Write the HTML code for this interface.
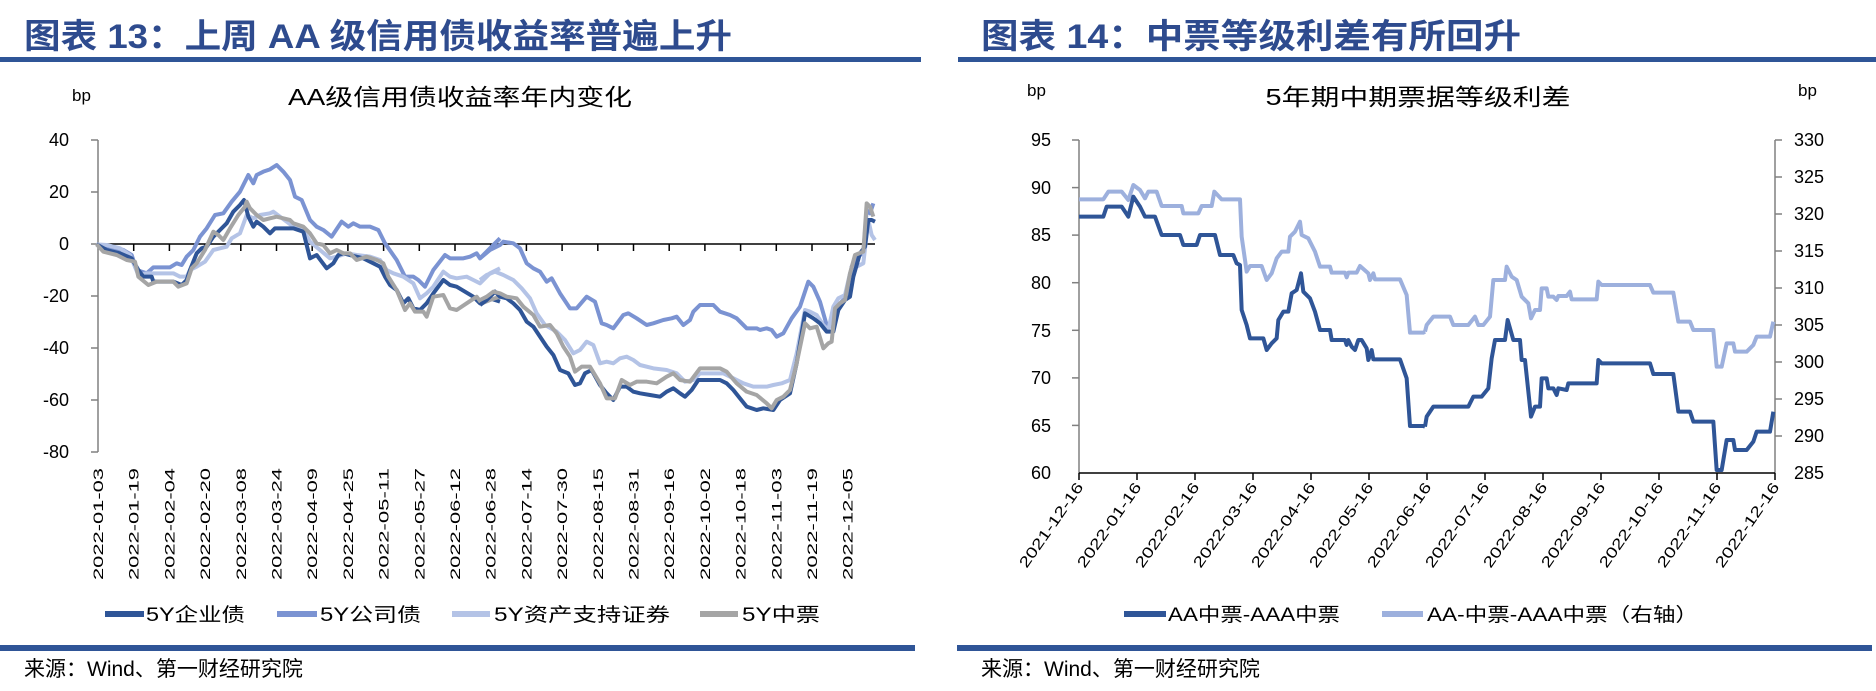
<!DOCTYPE html>
<html><head><meta charset="utf-8"><style>
html,body{margin:0;padding:0;background:#fff;}
svg{display:block;}
text{font-family:"Liberation Sans","Noto Sans CJK SC",sans-serif;}
</style></head><body>
<svg width="1876" height="691" viewBox="0 0 1876 691" xmlns="http://www.w3.org/2000/svg">
<text x="24" y="48" font-size="34" font-weight="bold" fill="#2E4B8E" textLength="708" lengthAdjust="spacingAndGlyphs">图表 13：上周 AA 级信用债收益率普遍上升</text>
<text x="981" y="48" font-size="34" font-weight="bold" fill="#2E4B8E" textLength="540" lengthAdjust="spacingAndGlyphs">图表 14：中票等级利差有所回升</text>
<rect x="0" y="57" width="921" height="5" fill="#2F5597"/>
<rect x="958" y="57" width="918" height="5" fill="#2F5597"/>
<rect x="0" y="645" width="915" height="6" fill="#2F5597"/>
<rect x="957" y="645" width="915" height="6" fill="#2F5597"/>
<text x="24" y="676" font-size="21" fill="#000">来源：Wind、第一财经研究院</text>
<text x="981" y="676" font-size="21" fill="#000">来源：Wind、第一财经研究院</text>

<text x="72" y="101" font-size="17">bp</text>
<text x="460" y="105" font-size="23" text-anchor="middle" textLength="344" lengthAdjust="spacingAndGlyphs">AA级信用债收益率年内变化</text>
<g font-size="18" text-anchor="end" fill="#000">
<text x="69" y="146">40</text><text x="69" y="198">20</text><text x="69" y="250">0</text>
<text x="69" y="302">-20</text><text x="69" y="354">-40</text><text x="69" y="406">-60</text><text x="69" y="458">-80</text>
</g>
<g stroke="#808080" stroke-width="1.5">
<line x1="98" y1="140" x2="98" y2="452"/>
<line x1="91" y1="140" x2="98" y2="140"/><line x1="91" y1="192" x2="98" y2="192"/><line x1="91" y1="244" x2="98" y2="244"/>
<line x1="91" y1="296" x2="98" y2="296"/><line x1="91" y1="348" x2="98" y2="348"/><line x1="91" y1="400" x2="98" y2="400"/><line x1="91" y1="452" x2="98" y2="452"/>
</g>
<line x1="98" y1="244" x2="875" y2="244" stroke="#000" stroke-width="1.5"/>
<g stroke="#000" stroke-width="1.5">
<line x1="133.7" y1="244" x2="133.7" y2="251"/><line x1="169.4" y1="244" x2="169.4" y2="251"/><line x1="205.1" y1="244" x2="205.1" y2="251"/><line x1="240.8" y1="244" x2="240.8" y2="251"/><line x1="276.5" y1="244" x2="276.5" y2="251"/><line x1="312.2" y1="244" x2="312.2" y2="251"/><line x1="347.9" y1="244" x2="347.9" y2="251"/><line x1="383.6" y1="244" x2="383.6" y2="251"/><line x1="419.3" y1="244" x2="419.3" y2="251"/><line x1="455" y1="244" x2="455" y2="251"/><line x1="490.7" y1="244" x2="490.7" y2="251"/><line x1="526.4" y1="244" x2="526.4" y2="251"/><line x1="562.1" y1="244" x2="562.1" y2="251"/><line x1="597.8" y1="244" x2="597.8" y2="251"/><line x1="633.5" y1="244" x2="633.5" y2="251"/><line x1="669.2" y1="244" x2="669.2" y2="251"/><line x1="704.9" y1="244" x2="704.9" y2="251"/><line x1="740.6" y1="244" x2="740.6" y2="251"/><line x1="776.3" y1="244" x2="776.3" y2="251"/><line x1="812" y1="244" x2="812" y2="251"/><line x1="847.7" y1="244" x2="847.7" y2="251"/>
</g>
<g font-size="14" font-family="Liberation Mono, monospace" text-anchor="end">
<text transform="translate(103,468) rotate(-90)" textLength="112" lengthAdjust="spacingAndGlyphs">2022-01-03</text>
<text transform="translate(138.7,468) rotate(-90)" textLength="112" lengthAdjust="spacingAndGlyphs">2022-01-19</text>
<text transform="translate(174.4,468) rotate(-90)" textLength="112" lengthAdjust="spacingAndGlyphs">2022-02-04</text>
<text transform="translate(210.1,468) rotate(-90)" textLength="112" lengthAdjust="spacingAndGlyphs">2022-02-20</text>
<text transform="translate(245.8,468) rotate(-90)" textLength="112" lengthAdjust="spacingAndGlyphs">2022-03-08</text>
<text transform="translate(281.5,468) rotate(-90)" textLength="112" lengthAdjust="spacingAndGlyphs">2022-03-24</text>
<text transform="translate(317.2,468) rotate(-90)" textLength="112" lengthAdjust="spacingAndGlyphs">2022-04-09</text>
<text transform="translate(352.9,468) rotate(-90)" textLength="112" lengthAdjust="spacingAndGlyphs">2022-04-25</text>
<text transform="translate(388.6,468) rotate(-90)" textLength="112" lengthAdjust="spacingAndGlyphs">2022-05-11</text>
<text transform="translate(424.3,468) rotate(-90)" textLength="112" lengthAdjust="spacingAndGlyphs">2022-05-27</text>
<text transform="translate(460,468) rotate(-90)" textLength="112" lengthAdjust="spacingAndGlyphs">2022-06-12</text>
<text transform="translate(495.7,468) rotate(-90)" textLength="112" lengthAdjust="spacingAndGlyphs">2022-06-28</text>
<text transform="translate(531.4,468) rotate(-90)" textLength="112" lengthAdjust="spacingAndGlyphs">2022-07-14</text>
<text transform="translate(567.1,468) rotate(-90)" textLength="112" lengthAdjust="spacingAndGlyphs">2022-07-30</text>
<text transform="translate(602.8,468) rotate(-90)" textLength="112" lengthAdjust="spacingAndGlyphs">2022-08-15</text>
<text transform="translate(638.5,468) rotate(-90)" textLength="112" lengthAdjust="spacingAndGlyphs">2022-08-31</text>
<text transform="translate(674.2,468) rotate(-90)" textLength="112" lengthAdjust="spacingAndGlyphs">2022-09-16</text>
<text transform="translate(709.9,468) rotate(-90)" textLength="112" lengthAdjust="spacingAndGlyphs">2022-10-02</text>
<text transform="translate(745.6,468) rotate(-90)" textLength="112" lengthAdjust="spacingAndGlyphs">2022-10-18</text>
<text transform="translate(781.3,468) rotate(-90)" textLength="112" lengthAdjust="spacingAndGlyphs">2022-11-03</text>
<text transform="translate(817,468) rotate(-90)" textLength="112" lengthAdjust="spacingAndGlyphs">2022-11-19</text>
<text transform="translate(852.7,468) rotate(-90)" textLength="112" lengthAdjust="spacingAndGlyphs">2022-12-05</text>
</g>
<g transform="translate(90,130) scale(0.33333)" fill="none" stroke-linejoin="round">
<polyline stroke="#7B93D2" stroke-width="12" points="20,343 60,350 100,360 125,375 140,420 170,430 190,412 240,412 260,400 275,405 290,380 310,360 330,320 350,295 375,255 400,250 425,215 450,185 475,135 490,160 500,135 520,125 540,118 560,105 580,125 600,150 615,200 635,210 660,270 680,290 700,300 725,320 755,275 775,290 790,280 810,290 840,290 865,300 885,340 920,390 945,440 970,440 985,450 1005,470 1030,420 1065,375 1080,385 1120,385 1140,380 1160,370 1170,385 1200,355 1230,325"/>
<polyline stroke="#B4C3E6" stroke-width="12" points="20,343 50,345 90,355 120,375 145,435 170,430 200,430 250,430 270,440 290,440 300,420 320,410 345,395 370,360 390,355 410,350 425,325 450,310 470,255 490,265 510,255 540,250 550,245 570,260 590,275 610,290 640,300 660,335 690,360 720,385 740,380 770,370 800,375 840,380 870,390 890,420 910,430 940,440 970,460 990,505 1010,490 1030,470 1060,425 1080,440 1100,445 1130,440 1150,450 1170,460 1200,430 1230,415"/>
<polyline stroke="#2F5597" stroke-width="12" points="20,343 50,360 90,370 125,385 145,420 160,440 185,440 190,455 250,455 275,465 290,450 300,420 320,370 335,355 350,350 370,320 390,300 410,280 430,245 450,225 462,210 475,260 490,290 500,275 520,290 540,310 555,295 580,295 610,295 640,305 660,385 680,375 695,395 710,415 730,400 745,375 760,370 790,378 820,385 850,400 870,410 885,440 900,465 920,480 940,520 955,505 970,535 990,540 1010,520 1030,490 1060,450 1080,465 1100,470 1125,485 1150,500 1170,520 1200,505 1230,515"/>
<polyline stroke="#A5A5A5" stroke-width="12" points="20,343 40,365 80,375 110,390 135,395 145,440 175,465 200,455 250,455 265,470 290,460 305,415 320,400 345,360 370,305 385,315 400,330 420,295 445,255 465,230 470,215 480,235 500,255 520,270 540,265 560,260 580,265 600,270 610,280 640,290 660,310 680,340 700,345 720,370 740,360 760,370 780,370 800,390 830,380 860,390 880,400 895,440 920,480 945,540 960,520 975,545 1000,545 1010,560 1030,500 1060,495 1080,535 1100,540 1130,520 1160,500 1175,520 1200,510 1230,500"/>
</g>
<g transform="translate(480,200) scale(0.33333)" fill="none" stroke-linejoin="round">
<polyline stroke="#7B93D2" stroke-width="12" points="0,175 30,150 60,135 70,125 100,130 120,145 140,190 160,205 180,215 200,245 215,235 240,280 270,325 290,325 320,290 345,305 365,370 380,375 400,385 430,345 445,340 470,355 500,375 520,370 550,360 575,355 590,350 610,375 630,360 640,335 660,315 700,315 720,335 750,345 770,355 800,385 830,385 840,390 860,385 875,390 890,410 910,400 935,355 960,320 985,245 1000,260 1020,305 1040,375 1055,380 1070,320 1090,300 1105,280 1115,200 1130,170 1150,160 1160,30 1170,40 1180,10"/>
<polyline stroke="#B4C3E6" stroke-width="12" points="0,240 20,225 45,215 70,225 100,240 125,265 150,295 170,340 195,375 230,395 255,420 280,460 300,450 320,425 340,435 360,490 380,485 400,490 420,475 440,470 460,480 480,495 520,505 560,510 590,520 615,545 640,540 660,520 700,520 730,520 760,535 790,550 820,560 860,560 880,555 905,550 930,540 950,460 975,330 990,335 1010,345 1030,375 1045,390 1060,320 1075,295 1095,285 1110,220 1130,200 1150,190 1165,60 1175,105 1185,120"/>
<polyline stroke="#2F5597" stroke-width="12" points="0,315 20,300 45,275 60,290 80,295 100,310 120,330 140,365 160,380 180,410 200,440 220,465 240,510 265,520 285,555 300,550 315,520 335,510 360,555 380,580 400,600 420,560 440,560 460,575 480,580 510,585 540,590 560,575 580,565 600,580 615,590 635,570 655,540 720,540 740,550 760,570 780,595 800,620 830,630 850,625 880,630 900,600 930,580 950,490 975,340 1000,355 1020,370 1040,395 1060,395 1075,330 1095,300 1110,290 1120,230 1140,160 1155,140 1165,60 1175,60 1185,65"/>
<polyline stroke="#A5A5A5" stroke-width="12" points="0,300 20,290 40,275 60,280 80,290 110,295 130,320 160,345 180,380 210,375 230,400 250,440 270,470 285,515 305,500 330,500 360,550 380,595 405,595 425,540 450,555 470,545 500,545 530,550 560,530 580,520 600,540 630,545 660,505 720,505 740,515 770,550 800,575 830,585 860,610 875,625 890,600 910,590 930,570 950,490 975,370 990,385 1010,380 1030,445 1045,430 1055,425 1065,325 1080,310 1095,300 1110,220 1125,165 1150,155 1160,10 1170,20 1180,50"/>
</g>
<g stroke-width="6">
<line x1="105" y1="614" x2="144" y2="614" stroke="#2F5597"/>
<line x1="277" y1="614" x2="317" y2="614" stroke="#7B93D2"/>
<line x1="452" y1="614" x2="490" y2="614" stroke="#B4C3E6"/>
<line x1="700" y1="614" x2="738" y2="614" stroke="#A5A5A5"/>
</g>
<g font-size="19">
<text x="146" y="621" textLength="99" lengthAdjust="spacingAndGlyphs">5Y企业债</text>
<text x="320" y="621" textLength="101" lengthAdjust="spacingAndGlyphs">5Y公司债</text>
<text x="494" y="621" textLength="176" lengthAdjust="spacingAndGlyphs">5Y资产支持证券</text>
<text x="742" y="621" textLength="78" lengthAdjust="spacingAndGlyphs">5Y中票</text>
</g>

<text x="1027" y="96" font-size="17">bp</text>
<text x="1798" y="96" font-size="17">bp</text>
<text x="1418" y="105" font-size="23" text-anchor="middle" textLength="305" lengthAdjust="spacingAndGlyphs">5年期中期票据等级利差</text>
<g font-size="18" text-anchor="end">
<text x="1051" y="146">95</text><text x="1051" y="194">90</text><text x="1051" y="241">85</text><text x="1051" y="289">80</text>
<text x="1051" y="337">75</text><text x="1051" y="384">70</text><text x="1051" y="432">65</text><text x="1051" y="479">60</text>
</g>
<g font-size="18">
<text x="1794" y="146">330</text><text x="1794" y="183">325</text><text x="1794" y="220">320</text><text x="1794" y="257">315</text>
<text x="1794" y="294">310</text><text x="1794" y="331">305</text><text x="1794" y="368">300</text><text x="1794" y="405">295</text>
<text x="1794" y="442">290</text><text x="1794" y="479">285</text>
</g>
<g stroke="#808080" stroke-width="1.5">
<line x1="1079" y1="140" x2="1079" y2="473"/>
<line x1="1072" y1="140" x2="1079" y2="140"/><line x1="1072" y1="187.6" x2="1079" y2="187.6"/><line x1="1072" y1="235.1" x2="1079" y2="235.1"/><line x1="1072" y1="282.7" x2="1079" y2="282.7"/><line x1="1072" y1="330.3" x2="1079" y2="330.3"/><line x1="1072" y1="377.9" x2="1079" y2="377.9"/><line x1="1072" y1="425.4" x2="1079" y2="425.4"/>
<line x1="1775" y1="140" x2="1775" y2="473"/>
<line x1="1775" y1="140" x2="1782" y2="140"/><line x1="1775" y1="177" x2="1782" y2="177"/><line x1="1775" y1="214" x2="1782" y2="214"/><line x1="1775" y1="251" x2="1782" y2="251"/><line x1="1775" y1="288" x2="1782" y2="288"/><line x1="1775" y1="325" x2="1782" y2="325"/><line x1="1775" y1="362" x2="1782" y2="362"/><line x1="1775" y1="399" x2="1782" y2="399"/><line x1="1775" y1="436" x2="1782" y2="436"/>
</g>
<line x1="1079" y1="473" x2="1775" y2="473" stroke="#000" stroke-width="1.5"/>
<g stroke="#000" stroke-width="1.5">
<line x1="1079" y1="473" x2="1079" y2="480"/><line x1="1137" y1="473" x2="1137" y2="480"/><line x1="1195" y1="473" x2="1195" y2="480"/><line x1="1253" y1="473" x2="1253" y2="480"/><line x1="1311" y1="473" x2="1311" y2="480"/><line x1="1369" y1="473" x2="1369" y2="480"/><line x1="1427" y1="473" x2="1427" y2="480"/><line x1="1485" y1="473" x2="1485" y2="480"/><line x1="1543" y1="473" x2="1543" y2="480"/><line x1="1601" y1="473" x2="1601" y2="480"/><line x1="1659" y1="473" x2="1659" y2="480"/><line x1="1717" y1="473" x2="1717" y2="480"/><line x1="1775" y1="473" x2="1775" y2="480"/>
</g>
<g font-size="15" font-family="Liberation Mono, monospace" text-anchor="end">
<text transform="translate(1084,487) rotate(-55)" textLength="100" lengthAdjust="spacingAndGlyphs">2021-12-16</text>
<text transform="translate(1142,487) rotate(-55)" textLength="100" lengthAdjust="spacingAndGlyphs">2022-01-16</text>
<text transform="translate(1200,487) rotate(-55)" textLength="100" lengthAdjust="spacingAndGlyphs">2022-02-16</text>
<text transform="translate(1258,487) rotate(-55)" textLength="100" lengthAdjust="spacingAndGlyphs">2022-03-16</text>
<text transform="translate(1316,487) rotate(-55)" textLength="100" lengthAdjust="spacingAndGlyphs">2022-04-16</text>
<text transform="translate(1374,487) rotate(-55)" textLength="100" lengthAdjust="spacingAndGlyphs">2022-05-16</text>
<text transform="translate(1432,487) rotate(-55)" textLength="100" lengthAdjust="spacingAndGlyphs">2022-06-16</text>
<text transform="translate(1490,487) rotate(-55)" textLength="100" lengthAdjust="spacingAndGlyphs">2022-07-16</text>
<text transform="translate(1548,487) rotate(-55)" textLength="100" lengthAdjust="spacingAndGlyphs">2022-08-16</text>
<text transform="translate(1606,487) rotate(-55)" textLength="100" lengthAdjust="spacingAndGlyphs">2022-09-16</text>
<text transform="translate(1664,487) rotate(-55)" textLength="100" lengthAdjust="spacingAndGlyphs">2022-10-16</text>
<text transform="translate(1722,487) rotate(-55)" textLength="100" lengthAdjust="spacingAndGlyphs">2022-11-16</text>
<text transform="translate(1780,487) rotate(-55)" textLength="100" lengthAdjust="spacingAndGlyphs">2022-12-16</text>
</g>
<g transform="translate(1075,170) scale(0.33333)" fill="none" stroke-linejoin="round" stroke-width="12">
<polyline stroke="#9DB0DD" points="12,88 85,88 100,65 140,65 160,90 175,45 195,60 210,85 220,65 245,65 260,108 320,108 325,130 370,130 380,108 410,108 418,65 440,88 495,88 500,200 515,305 525,288 560,288 575,330 590,310 605,265 620,245 640,245 645,200 660,185 675,155 680,195 700,205 720,245 735,290 765,290 770,308 810,308 815,322 820,308 845,308 855,288 880,310 885,330 895,310 900,328 975,328 995,375 1005,488 1045,488 1050,485"/>
<polyline stroke="#2F5597" points="12,140 85,140 95,110 140,110 160,140 175,80 195,110 210,140 240,140 260,195 315,195 325,225 365,225 375,195 420,195 435,255 475,255 485,280 495,285 500,420 515,465 525,505 565,505 575,540 590,520 605,505 610,450 625,425 640,425 650,370 665,360 678,310 685,365 705,385 720,425 735,480 765,480 770,510 810,510 815,525 820,510 830,530 840,540 850,510 860,510 875,535 880,570 890,540 895,568 975,568 995,625 1005,768 1045,768 1050,770"/>
</g>
<g transform="translate(1425,170) scale(0.33333)" fill="none" stroke-linejoin="round" stroke-width="12">
<polyline stroke="#9DB0DD" points="0,485 5,465 25,440 75,440 85,465 130,465 150,440 160,465 175,465 195,440 205,330 240,330 245,290 260,320 275,330 290,380 310,400 318,445 330,420 345,420 350,355 365,355 370,380 385,380 395,390 400,378 425,378 435,365 440,388 515,388 520,335 530,345 675,345 685,368 745,368 760,455 795,455 805,480 865,480 875,590 890,590 905,520 925,520 930,545 965,545 985,525 995,500 1035,500 1045,455"/>
<polyline stroke="#2F5597" points="0,770 5,740 25,710 130,710 145,680 170,680 190,655 200,565 210,510 240,510 248,450 265,510 285,510 290,570 300,570 318,740 330,710 345,710 350,625 365,625 370,655 385,655 395,675 400,655 425,660 430,640 515,640 520,570 530,580 675,580 685,612 745,612 760,725 795,725 805,755 865,755 875,900 890,900 905,810 925,810 930,840 965,840 985,815 995,785 1035,785 1045,725"/>
</g>
<g stroke-width="6">
<line x1="1124" y1="614" x2="1166" y2="614" stroke="#2F5597"/>
<line x1="1382" y1="614" x2="1423" y2="614" stroke="#9DB0DD"/>
</g>
<g font-size="19">
<text x="1168" y="621" textLength="172" lengthAdjust="spacingAndGlyphs">AA中票-AAA中票</text>
<text x="1427" y="621" textLength="271" lengthAdjust="spacingAndGlyphs">AA-中票-AAA中票（右轴）</text>
</g>
</svg>
</body></html>
